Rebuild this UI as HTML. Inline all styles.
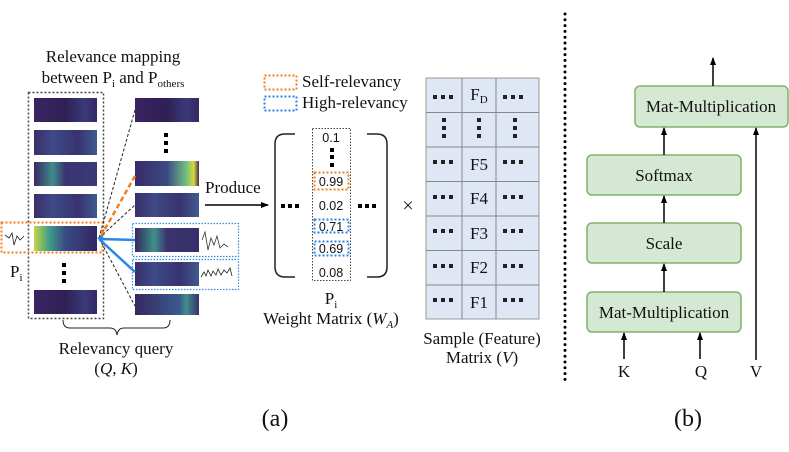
<!DOCTYPE html>
<html><head><meta charset="utf-8"><style>
html,body{margin:0;padding:0;background:#fff}
svg{display:block}
text{font-family:"Liberation Serif",serif;fill:#111}
.s{font-family:"Liberation Sans",sans-serif}
</style></head><body>
<svg width="789" height="452" viewBox="0 0 789 452" xmlns="http://www.w3.org/2000/svg">
<defs>
<linearGradient id="h0" x1="0" x2="1"><stop offset="0" stop-color="#3a2460"/><stop offset=".5" stop-color="#2f1f55"/><stop offset=".8" stop-color="#3a3a78"/><stop offset="1" stop-color="#332863"/></linearGradient>
<linearGradient id="h1" x1="0" x2="1"><stop offset="0" stop-color="#3a2f6a"/><stop offset=".3" stop-color="#3e4a86"/><stop offset=".7" stop-color="#37336e"/><stop offset="1" stop-color="#3f5b92"/></linearGradient>
<linearGradient id="h2" x1="0" x2="1"><stop offset="0" stop-color="#3a2a66"/><stop offset=".3" stop-color="#3f8a8a"/><stop offset=".5" stop-color="#3a3370"/><stop offset="1" stop-color="#3a3a78"/></linearGradient>
<linearGradient id="h3" x1="0" x2="1"><stop offset="0" stop-color="#c2d545"/><stop offset=".25" stop-color="#3e9a88"/><stop offset=".5" stop-color="#384a84"/><stop offset="1" stop-color="#332762"/></linearGradient>
<linearGradient id="h4" x1="0" x2="1"><stop offset="0" stop-color="#3a2a66"/><stop offset=".5" stop-color="#3a4a84"/><stop offset=".8" stop-color="#6fbf80"/><stop offset=".92" stop-color="#d8d640"/><stop offset="1" stop-color="#4a2a50"/></linearGradient>
<linearGradient id="h5" x1="0" x2="1"><stop offset="0" stop-color="#36285f"/><stop offset=".3" stop-color="#3f9088"/><stop offset=".5" stop-color="#3a3370"/><stop offset="1" stop-color="#36306a"/></linearGradient>
<linearGradient id="h6" x1="0" x2="1"><stop offset="0" stop-color="#36285f"/><stop offset=".7" stop-color="#3a5a8e"/><stop offset=".8" stop-color="#40908a"/><stop offset="1" stop-color="#36306a"/></linearGradient>
<marker id="ar" markerWidth="8" markerHeight="8" refX="7" refY="4" orient="auto" markerUnits="userSpaceOnUse"><path d="M0,1 L8,4 L0,7 z" fill="#000"/></marker>
<g id="row" fill="#222"><rect x="433" y="-2" width="4" height="4"/><rect x="441" y="-2" width="4" height="4"/><rect x="449" y="-2" width="4" height="4"/><rect x="503" y="-2" width="4" height="4"/><rect x="511" y="-2" width="4" height="4"/><rect x="519" y="-2" width="4" height="4"/></g>
</defs>

<!-- Title -->
<text x="113" y="62" font-size="17" text-anchor="middle">Relevance mapping</text>
<text x="113" y="83" font-size="17" text-anchor="middle">between P<tspan font-size="11" dy="4">i</tspan><tspan dy="-4"> and P</tspan><tspan font-size="11" dy="4">others</tspan></text>

<!-- left column -->
<rect x="28.5" y="92.5" width="75" height="226" fill="none" stroke="#444" stroke-width="1.5" stroke-dasharray="2,2"/>
<rect x="34" y="98" width="63" height="24" fill="url(#h0)"/>
<rect x="34" y="130" width="63" height="25" fill="url(#h1)"/>
<rect x="34" y="162" width="63" height="24" fill="url(#h2)"/>
<rect x="34" y="194" width="63" height="24" fill="url(#h1)"/>
<rect x="34" y="226" width="63" height="25" fill="url(#h3)"/>
<rect x="62" y="263" width="4" height="4" fill="#000"/><rect x="62" y="271" width="4" height="4" fill="#000"/><rect x="62" y="279" width="4" height="4" fill="#000"/>
<rect x="34" y="290" width="63" height="24" fill="url(#h0)"/>
<rect x="1.5" y="222.5" width="101" height="30" fill="none" stroke="#f07f1a" stroke-width="2" stroke-dasharray="2,2"/>
<polyline points="5,235 9,238 12,233 14,245 17,236 20,240 24,236" fill="none" stroke="#222" stroke-width="0.8"/>
<text x="10" y="277" font-size="17">P<tspan font-size="11" dy="4">i</tspan></text>

<!-- right column -->
<rect x="135" y="98" width="64" height="24" fill="url(#h0)"/>
<rect x="164" y="133" width="4" height="4" fill="#000"/><rect x="164" y="141" width="4" height="4" fill="#000"/><rect x="164" y="149" width="4" height="4" fill="#000"/>
<rect x="135" y="161" width="64" height="25" fill="url(#h4)"/>
<rect x="135" y="193" width="64" height="24" fill="url(#h1)"/>
<rect x="135" y="228" width="64" height="24" fill="url(#h5)"/>
<rect x="135" y="262" width="64" height="24" fill="url(#h1)"/>
<rect x="135" y="294" width="64" height="21" fill="url(#h6)"/>
<rect x="132.5" y="223.5" width="106" height="33" fill="none" stroke="#3a8ee6" stroke-width="1.2" stroke-dasharray="1.5,1.5"/>
<rect x="132.5" y="259.5" width="106" height="30" fill="none" stroke="#3a8ee6" stroke-width="1.2" stroke-dasharray="1.5,1.5"/>
<polyline points="202,240 205,232 208,250 211,238 214,245 217,236 220,248 224,244 228,247" fill="none" stroke="#333" stroke-width="0.8"/>
<polyline points="201,277 204,272 206,276 208,270 211,276 213,271 216,275 218,269 221,275 224,270 227,273 230,268 232,276" fill="none" stroke="#222" stroke-width="0.8"/>

<!-- connectors -->
<g stroke="#222" stroke-width="1" stroke-dasharray="3,2" fill="none">
<line x1="99" y1="238" x2="135" y2="110"/>
<line x1="99" y1="238" x2="135" y2="205"/>
<line x1="99" y1="238" x2="135" y2="306"/>
</g>
<line x1="101" y1="236" x2="135" y2="176" stroke="#f07f1a" stroke-width="2.5" stroke-dasharray="5,3"/>
<line x1="99" y1="239" x2="135" y2="240" stroke="#2a86e6" stroke-width="2.5"/>
<line x1="99" y1="239" x2="135" y2="272" stroke="#2a86e6" stroke-width="2.5"/>
<polygon points="97,238 103,235 103,242" fill="#2a86e6"/>

<!-- brace -->
<path d="M63,320 Q63,328 70,328 L110,328 Q116,328 117,335 Q118,328 124,328 L163,328 Q170,328 170,320" fill="none" stroke="#222" stroke-width="1"/>
<text x="116" y="354" font-size="17" text-anchor="middle">Relevancy query</text>
<text x="116" y="374" font-size="17" text-anchor="middle">(<tspan font-style="italic">Q</tspan>, <tspan font-style="italic">K</tspan>)</text>

<!-- produce -->
<text x="205" y="193" font-size="17">Produce</text>
<line x1="205" y1="205" x2="268" y2="205" stroke="#000" stroke-width="1.5" marker-end="url(#ar)"/>

<!-- legend -->
<rect x="264.5" y="75.5" width="32" height="14" fill="none" stroke="#f07f1a" stroke-width="2" stroke-dasharray="2,2"/>
<text x="302" y="87" font-size="17">Self-relevancy</text>
<rect x="264.5" y="96.5" width="32" height="14" fill="none" stroke="#2a86e6" stroke-width="2" stroke-dasharray="2,2"/>
<text x="302" y="108" font-size="17">High-relevancy</text>

<!-- weight matrix -->
<path d="M295,134 L285,134 Q275,134 275,144 L275,267 Q275,277 285,277 L295,277" fill="none" stroke="#222" stroke-width="1.5"/>
<path d="M367,134 L377,134 Q387,134 387,144 L387,267 Q387,277 377,277 L367,277" fill="none" stroke="#222" stroke-width="1.5"/>
<rect x="312.5" y="128.5" width="38" height="152" fill="none" stroke="#444" stroke-width="1" stroke-dasharray="1.5,1.5"/>
<g font-size="12.5" text-anchor="middle">
<text class="s" x="331" y="142">0.1</text>
<text class="s" x="331" y="186">0.99</text>
<text class="s" x="331" y="210">0.02</text>
<text class="s" x="331" y="231">0.71</text>
<text class="s" x="331" y="253">0.69</text>
<text class="s" x="331" y="277">0.08</text>
</g>
<rect x="330" y="148" width="4" height="4" fill="#000"/><rect x="330" y="155" width="4" height="4" fill="#000"/><rect x="330" y="163" width="4" height="4" fill="#000"/>
<rect x="314.5" y="172.5" width="34" height="17" fill="none" stroke="#f07f1a" stroke-width="2" stroke-dasharray="2,2"/>
<rect x="314.5" y="219.5" width="34" height="13" fill="none" stroke="#2a86e6" stroke-width="2" stroke-dasharray="2,2"/>
<rect x="314.5" y="241.5" width="34" height="14" fill="none" stroke="#2a86e6" stroke-width="2" stroke-dasharray="2,2"/>
<g fill="#000"><rect x="281" y="204" width="4" height="4"/><rect x="288" y="204" width="4" height="4"/><rect x="295" y="204" width="4" height="4"/>
<rect x="358" y="204" width="4" height="4"/><rect x="365" y="204" width="4" height="4"/><rect x="372" y="204" width="4" height="4"/></g>
<text x="331" y="304" font-size="17" text-anchor="middle">P<tspan font-size="11" dy="4">i</tspan></text>
<text x="331" y="324" font-size="17" text-anchor="middle">Weight Matrix (<tspan font-style="italic">W</tspan><tspan font-style="italic" font-size="11" dy="4">A</tspan><tspan dy="-4">)</tspan></text>
<text x="408" y="212" font-size="20" text-anchor="middle">×</text>

<!-- sample matrix -->
<rect x="426" y="78" width="113" height="241" fill="#dfe7f4" stroke="#999" stroke-width="1"/>
<g stroke="#888" stroke-width="1">
<line x1="462" y1="78" x2="462" y2="319"/><line x1="496" y1="78" x2="496" y2="319"/>
<line x1="426" y1="112.5" x2="539" y2="112.5"/><line x1="426" y1="147" x2="539" y2="147"/>
<line x1="426" y1="181.5" x2="539" y2="181.5"/><line x1="426" y1="216" x2="539" y2="216"/>
<line x1="426" y1="250.5" x2="539" y2="250.5"/><line x1="426" y1="285" x2="539" y2="285"/>
</g>
<use href="#row" y="97"/>
<use href="#row" y="162"/><use href="#row" y="197"/><use href="#row" y="231"/><use href="#row" y="266"/><use href="#row" y="300"/>
<g fill="#222">
<rect x="442" y="118" width="4" height="4"/><rect x="442" y="126" width="4" height="4"/><rect x="442" y="134" width="4" height="4"/>
<rect x="477" y="118" width="4" height="4"/><rect x="477" y="126" width="4" height="4"/><rect x="477" y="134" width="4" height="4"/>
<rect x="513" y="118" width="4" height="4"/><rect x="513" y="126" width="4" height="4"/><rect x="513" y="134" width="4" height="4"/>
</g>
<g font-size="17" text-anchor="middle">
<text x="479" y="100">F<tspan font-size="11" dy="3">D</tspan></text>
<text x="479" y="170">F5</text><text x="479" y="204">F4</text><text x="479" y="239">F3</text>
<text x="479" y="273">F2</text><text x="479" y="308">F1</text>
</g>
<text x="482" y="344" font-size="17" text-anchor="middle">Sample (Feature)</text>
<text x="482" y="363" font-size="17" text-anchor="middle">Matrix (<tspan font-style="italic">V</tspan>)</text>

<text x="275" y="426" font-size="24" text-anchor="middle">(a)</text>

<!-- divider -->
<line x1="565" y1="14" x2="565" y2="382" stroke="#000" stroke-width="3" stroke-linecap="round" stroke-dasharray="0,5.8"/>

<!-- right panel -->
<g fill="#d5e8d4" stroke="#82b366" stroke-width="1.5">
<rect x="635" y="86" width="153" height="41" rx="5"/>
<rect x="587" y="155" width="154" height="40" rx="5"/>
<rect x="587" y="223" width="154" height="40" rx="5"/>
<rect x="587" y="292" width="154" height="40" rx="5"/>
</g>
<g font-size="17" text-anchor="middle">
<text x="711" y="112">Mat-Multiplication</text>
<text x="664" y="181">Softmax</text>
<text x="664" y="249">Scale</text>
<text x="664" y="318">Mat-Multiplication</text>
</g>
<g stroke="#000" stroke-width="1.5" marker-end="url(#ar)">
<line x1="713" y1="86" x2="713" y2="58"/>
<line x1="664" y1="155" x2="664" y2="128"/>
<line x1="664" y1="223" x2="664" y2="196"/>
<line x1="664" y1="292" x2="664" y2="264"/>
<line x1="624" y1="359" x2="624" y2="333"/>
<line x1="700" y1="359" x2="700" y2="333"/>
<line x1="756" y1="360" x2="756" y2="128"/>
</g>
<g font-size="17" text-anchor="middle">
<text x="624" y="377">K</text><text x="701" y="377">Q</text><text x="756" y="377">V</text>
</g>
<text x="688" y="426" font-size="24" text-anchor="middle">(b)</text>
</svg>
</body></html>
